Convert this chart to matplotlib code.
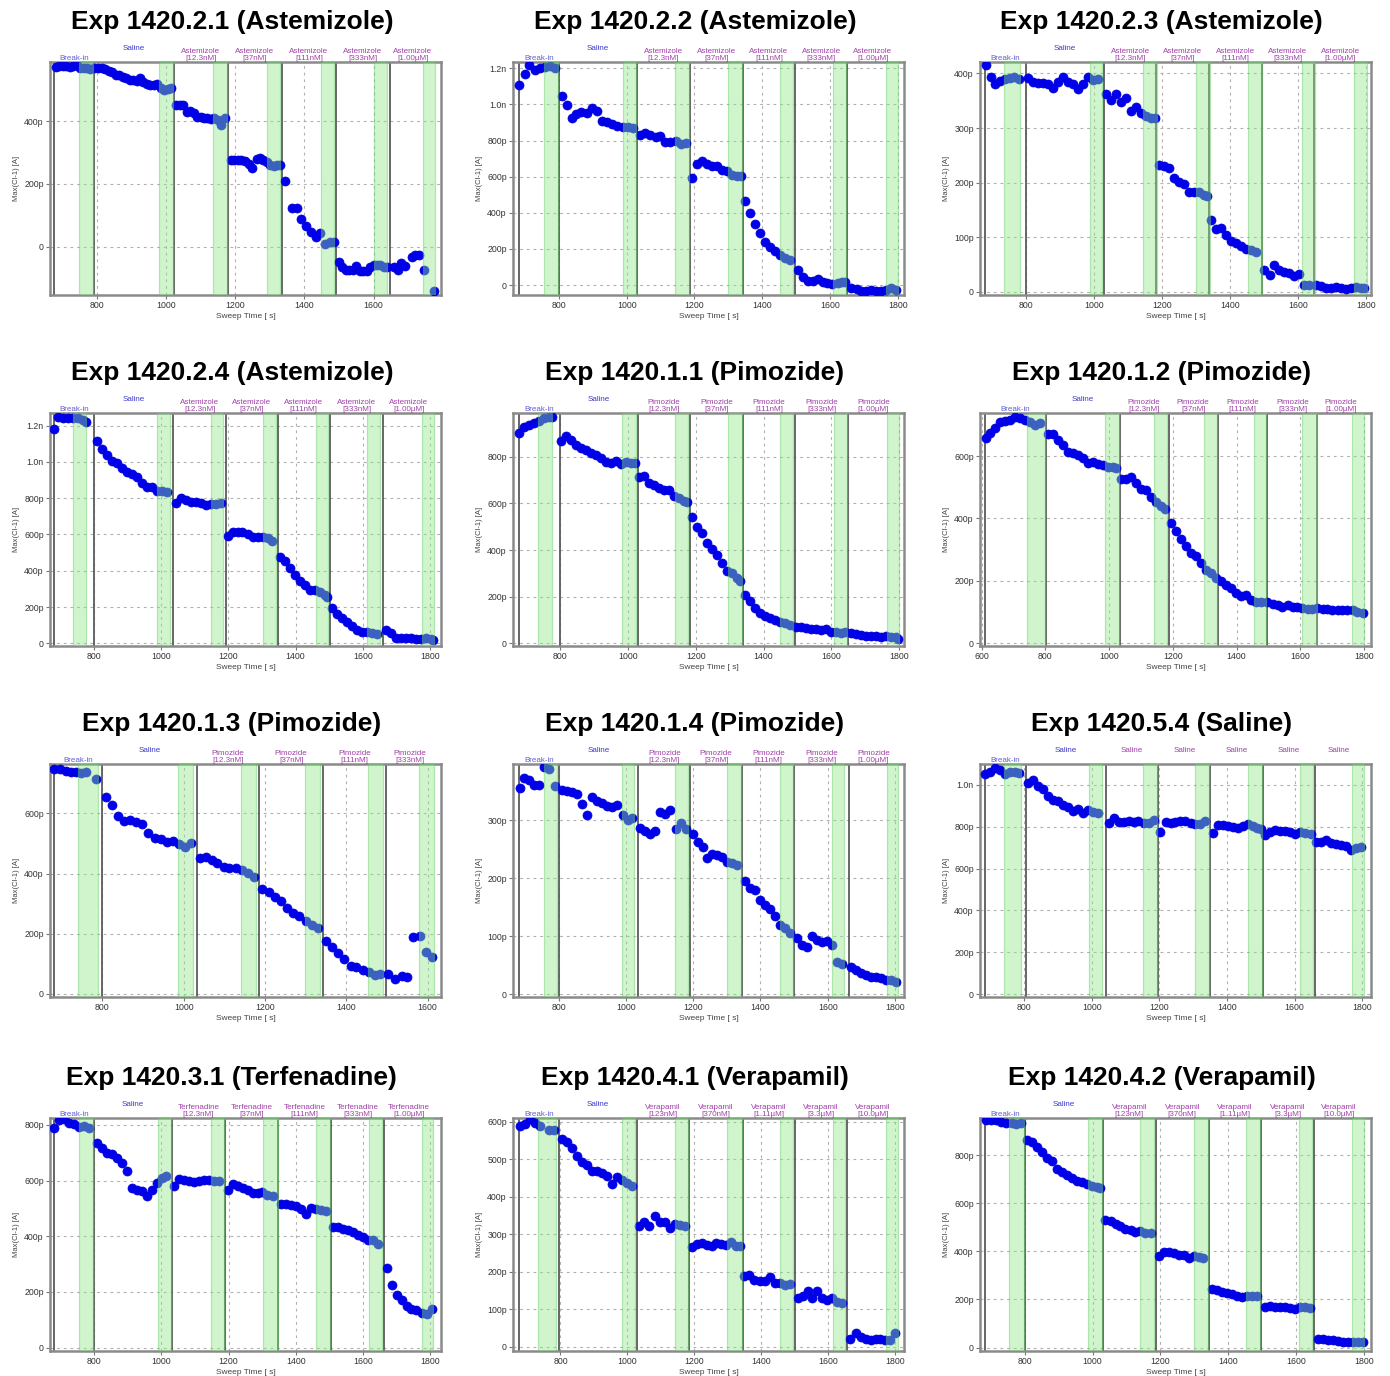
import numpy as np
import matplotlib.pyplot as plt
from matplotlib.ticker import FuncFormatter
import matplotlib.transforms as mtransforms

plt.rcParams['font.family'] = ['Liberation Sans', 'DejaVu Sans']

# sweep times [s] and Max(Cl-1) [pA]
t_2_1 = [682, 692, 702, 712, 722, 732, 742, 752, 762, 772, 782, 792,
         805, 815, 825, 835, 845, 855, 865, 875, 885, 895, 905, 915, 925, 935, 945, 955, 965, 975, 985, 995, 1005, 1015,
         1030, 1040, 1050, 1060, 1070, 1080, 1090, 1100, 1110, 1120, 1130, 1140, 1150, 1160, 1172,
         1188, 1198, 1208, 1218, 1228, 1240, 1250, 1262, 1272, 1282, 1292, 1302, 1312, 1322, 1330,
         1345, 1365, 1380, 1390, 1405, 1420, 1435, 1445, 1460, 1475, 1485,
         1500, 1510, 1520, 1530, 1540, 1550, 1560, 1570, 1580, 1590, 1600, 1610, 1620, 1630, 1640,
         1660, 1670, 1680, 1690, 1710, 1720, 1730, 1745, 1775]
i_2_1 = [575, 577, 578, 576, 575, 578, 580, 571, 570, 570, 569, 570,
         571, 571, 568, 562, 558, 548, 550, 543, 538, 533, 532, 528, 539, 525, 520, 518, 515, 520, 508, 500, 505, 507,
         453, 453, 452, 430, 432, 428, 413, 415, 412, 410, 408, 410, 405, 390, 410,
         277, 278, 278, 276, 272, 265, 252, 281, 282, 278, 270, 260, 258, 262, 260,
         208, 123, 123, 87, 67, 45, 32, 43, 7, 14, 16,
         -48, -64, -75, -75, -75, -62, -77, -77, -77, -64, -59, -59, -59, -64, -64,
         -64, -75, -53, -62, -35, -27, -27, -75, -142]

t_2_2 = [684, 700, 713, 730, 744, 759, 774, 788,
         810, 824, 839, 852, 866, 883, 899, 913, 928, 943, 957, 972, 989, 1003, 1018,
         1040, 1055, 1070, 1086, 1099, 1114, 1128, 1145, 1160, 1174,
         1194, 1209, 1223, 1238, 1253, 1267, 1282, 1297, 1311, 1326, 1336,
         1350, 1365, 1380, 1394, 1409, 1424, 1438, 1453, 1468, 1482,
         1505, 1519, 1534, 1549, 1563, 1578, 1592, 1607, 1622, 1634, 1644,
         1663, 1678, 1692, 1707, 1722, 1736, 1751, 1766, 1780, 1795]
i_2_2 = [1108, 1167, 1218, 1191, 1200, 1205, 1215, 1204,
         1049, 997, 927, 945, 960, 951, 982, 964, 908, 901, 890, 882, 877, 877, 871,
         831, 840, 831, 822, 825, 790, 794, 797, 779, 785,
         594, 668, 687, 670, 661, 661, 637, 631, 609, 606, 604,
         467, 397, 336, 286, 240, 212, 190, 166, 148, 138,
         83, 46, 22, 22, 33, 15, 9, 4, 9, 15, 18,
         -15, -22, -33, -33, -28, -33, -33, -28, -18, -28]

t_2_3 = [684, 697, 710, 725, 739, 754, 766, 781,
         808, 822, 837, 852, 866, 881, 896, 910, 925, 940, 954, 969, 984, 998, 1013,
         1036, 1050, 1065, 1080, 1094, 1109, 1124, 1138, 1153, 1168, 1179,
         1192, 1207, 1221, 1236, 1250, 1265, 1280, 1294, 1309, 1324, 1334,
         1345, 1360, 1374, 1389, 1404, 1418, 1433, 1447, 1462, 1477,
         1500, 1517, 1529, 1544, 1559, 1573, 1588, 1603, 1617, 1632,
         1653, 1668, 1683, 1697, 1712, 1727, 1741, 1756, 1771, 1786, 1795]
i_2_3 = [415, 394, 380, 386, 389, 392, 394, 389,
         392, 385, 382, 382, 380, 374, 385, 393, 385, 380, 371, 380, 394, 388, 389,
         362, 352, 362, 348, 355, 331, 339, 327, 322, 319, 318,
         233, 230, 226, 209, 202, 197, 182, 182, 183, 178, 176,
         131, 115, 116, 104, 93, 89, 84, 78, 76, 73,
         40, 31, 49, 40, 37, 35, 29, 32, 13, 13,
         12, 11, 7, 6, 8, 6, 5, 6, 9, 7, 6]

t_2_4 = [682, 694, 709, 724, 738, 753, 766, 776,
         808, 823, 838, 853, 867, 882, 897, 912, 927, 942, 957, 972, 987, 1001, 1016,
         1044, 1059, 1074, 1089, 1104, 1118, 1133, 1148, 1163, 1178,
         1198, 1213, 1228, 1242, 1257, 1272, 1287, 1302, 1317, 1331,
         1354, 1368, 1383, 1398, 1413, 1428, 1443, 1458, 1473, 1488, 1495,
         1509, 1524, 1539, 1554, 1569, 1584, 1599, 1613, 1628, 1643,
         1669, 1684, 1699, 1714, 1728, 1743, 1758, 1773, 1788, 1803, 1808]
i_2_4 = [1180, 1250, 1244, 1240, 1240, 1244, 1231, 1218,
         1117, 1069, 1038, 1007, 996, 965, 946, 932, 915, 886, 860, 860, 842, 840, 836,
         772, 799, 790, 781, 781, 772, 763, 766, 768, 772,
         594, 616, 616, 612, 603, 588, 588, 588, 579, 566,
         478, 456, 413, 377, 345, 322, 294, 294, 285, 266, 257,
         193, 160, 138, 116, 97, 74, 64, 61, 55, 51,
         74, 59, 28, 28, 31, 28, 22, 22, 28, 22, 18]

t_1_1 = [678, 692, 707, 722, 736, 751, 766, 775,
         803, 818, 832, 847, 862, 876, 891, 906, 921, 935, 950, 965, 979, 994, 1009, 1019,
         1033, 1048, 1063, 1077, 1092, 1107, 1122, 1136, 1151, 1166, 1175,
         1190, 1205, 1219, 1234, 1249, 1264, 1278, 1293, 1308, 1323, 1332,
         1345, 1360, 1375, 1389, 1404, 1419, 1433, 1448, 1463, 1477,
         1497, 1512, 1526, 1541, 1556, 1571, 1585, 1600, 1615, 1629, 1641,
         1659, 1673, 1688, 1703, 1718, 1732, 1747, 1762, 1776, 1791, 1798]
i_1_1 = [903, 926, 936, 943, 953, 964, 971, 971,
         869, 890, 871, 850, 836, 829, 814, 807, 793, 779, 774, 781, 769, 776, 774, 774,
         711, 717, 686, 679, 664, 657, 657, 631, 621, 611, 607,
         543, 500, 471, 431, 403, 379, 346, 310, 300, 279, 269,
         207, 181, 150, 131, 117, 107, 100, 90, 86, 81,
         69, 69, 64, 60, 60, 57, 60, 50, 50, 46, 50,
         43, 39, 36, 33, 33, 31, 29, 31, 29, 26, 21]

t_1_2 = [613, 626, 642, 657, 673, 689, 704, 720, 736, 751, 767, 783,
         809, 824, 840, 856, 871, 887, 903, 918, 934, 950, 965, 981, 997, 1012, 1023,
         1038, 1054, 1070, 1085, 1101, 1117, 1132, 1148, 1164, 1174,
         1195, 1210, 1226, 1242, 1257, 1273, 1289, 1304, 1320, 1336,
         1351, 1367, 1383, 1398, 1414, 1430, 1445, 1461, 1477,
         1497, 1513, 1529, 1544, 1560, 1576, 1591, 1607, 1623, 1638,
         1654, 1670, 1685, 1701, 1717, 1732, 1748, 1764, 1779, 1798]
i_1_2 = [657, 675, 689, 708, 713, 715, 724, 721, 717, 708, 701, 705,
         670, 670, 651, 635, 614, 609, 603, 593, 579, 582, 576, 571, 564, 564, 563,
         525, 528, 532, 512, 493, 491, 468, 454, 440, 430,
         384, 360, 333, 312, 290, 278, 256, 235, 224, 208,
         198, 187, 176, 162, 152, 153, 137, 131, 131,
         133, 126, 123, 117, 121, 115, 115, 112, 110, 109,
         112, 109, 111, 107, 107, 107, 107, 105, 101, 96]

t_1_3 = [682, 696, 710, 723, 735, 748, 760, 784,
         808, 823, 838, 853, 868, 883, 898, 913, 929, 943, 958, 973, 989, 1003, 1018,
         1039, 1054, 1069, 1083, 1098, 1112, 1128, 1143, 1157, 1173,
         1193, 1210, 1225, 1239, 1255, 1270, 1284, 1300, 1315, 1330,
         1350, 1366, 1380, 1395, 1411, 1425, 1440, 1456, 1470, 1484,
         1503, 1521, 1536, 1550, 1565, 1581, 1596, 1611]
i_1_3 = [749, 749, 741, 738, 736, 735, 738, 713,
         653, 628, 591, 575, 578, 572, 565, 534, 517, 514, 504, 509, 498, 489, 500,
         451, 454, 445, 436, 423, 417, 417, 412, 403, 390,
         348, 340, 321, 309, 285, 268, 259, 242, 229, 218,
         177, 155, 135, 116, 94, 91, 80, 72, 63, 65,
         65, 50, 60, 55, 190, 193, 141, 122]

t_1_4 = [685, 697, 712, 727, 742, 757, 771, 788,
         810, 825, 839, 854, 869, 884, 900, 915, 929, 944, 959, 974, 991, 1005, 1018,
         1043, 1058, 1072, 1087, 1102, 1117, 1132, 1148, 1163, 1178,
         1198, 1213, 1228, 1242, 1257, 1272, 1287, 1301, 1316, 1331,
         1354, 1369, 1384, 1398, 1413, 1428, 1443, 1458, 1472, 1487,
         1509, 1524, 1538, 1553, 1568, 1583, 1598, 1612, 1627, 1642,
         1670, 1685, 1699, 1714, 1729, 1744, 1759, 1774, 1789, 1803]
i_1_4 = [356, 372, 369, 361, 361, 392, 389, 359,
         353, 350, 349, 346, 328, 309, 340, 333, 330, 324, 322, 327, 309, 301, 303,
         287, 282, 277, 281, 314, 310, 317, 284, 295, 284,
         276, 263, 253, 234, 241, 240, 236, 228, 226, 222,
         195, 183, 179, 163, 153, 146, 135, 119, 114, 106,
         97, 84, 82, 101, 93, 90, 91, 84, 56, 52,
         47, 41, 36, 33, 29, 29, 28, 25, 25, 21]

t_5_4 = [684, 699, 713, 728, 743, 758, 772, 785,
         812, 826, 841, 856, 871, 886, 900, 915, 930, 945, 959, 974, 989, 1004, 1018,
         1050, 1065, 1079, 1094, 1109, 1124, 1138, 1153, 1168, 1183,
         1203, 1218, 1233, 1247, 1262, 1277, 1292, 1306, 1321, 1336,
         1358, 1373, 1387, 1402, 1417, 1432, 1447, 1461, 1476, 1490, 1500,
         1512, 1527, 1542, 1557, 1571, 1586, 1600, 1615, 1630, 1648,
         1664, 1679, 1694, 1709, 1723, 1738, 1753, 1768, 1782, 1797]
i_5_4 = [1053, 1064, 1083, 1069, 1051, 1061, 1064, 1056,
         1008, 1024, 995, 979, 947, 928, 923, 904, 896, 877, 885, 864, 880, 872, 864,
         817, 840, 825, 825, 828, 825, 828, 817, 817, 833,
         777, 825, 817, 825, 828, 828, 820, 812, 813, 829,
         772, 809, 809, 804, 801, 796, 804, 813, 804, 796, 789,
         761, 777, 785, 781, 780, 777, 766, 777, 772, 764,
         729, 726, 737, 721, 716, 713, 708, 689, 697, 705]

t_3_1 = [681, 696, 711, 726, 740, 755, 770, 785,
         807, 822, 837, 852, 867, 882, 896, 911, 926, 941, 956, 971, 986, 1001, 1015,
         1038, 1053, 1068, 1083, 1098, 1113, 1128, 1143, 1158, 1172,
         1197, 1212, 1227, 1242, 1257, 1272, 1287, 1301, 1316, 1331,
         1356, 1371, 1386, 1401, 1416, 1431, 1445, 1460, 1475, 1490,
         1512, 1527, 1542, 1557, 1572, 1586, 1601, 1616, 1631, 1646,
         1671, 1686, 1701, 1716, 1731, 1745, 1760, 1775, 1790, 1805]
i_3_1 = [788, 818, 820, 806, 802, 792, 796, 790,
         734, 718, 698, 694, 680, 662, 634, 574, 568, 563, 544, 568, 593, 610, 617,
         581, 605, 602, 598, 595, 598, 602, 604, 598, 598,
         565, 589, 581, 574, 565, 557, 557, 559, 550, 544,
         517, 517, 514, 509, 497, 481, 502, 499, 496, 490,
         435, 435, 427, 421, 415, 405, 397, 385, 385, 373,
         286, 226, 189, 172, 150, 138, 135, 126, 120, 138]

t_4_1 = [679, 694, 709, 724, 739, 766, 781,
         805, 820, 835, 850, 864, 879, 894, 909, 924, 939, 953, 968, 983, 998, 1013,
         1036, 1050, 1065, 1083, 1098, 1113, 1128, 1142, 1157, 1172,
         1192, 1207, 1222, 1237, 1252, 1266, 1281, 1296, 1311, 1326, 1336,
         1350, 1365, 1380, 1395, 1410, 1427, 1442, 1456, 1471, 1486,
         1509, 1524, 1539, 1553, 1568, 1583, 1598, 1613, 1628, 1643,
         1667, 1682, 1697, 1712, 1727, 1742, 1756, 1771, 1786, 1801]
i_4_1 = [588, 593, 607, 596, 588, 579, 579,
         553, 545, 531, 508, 493, 486, 469, 469, 463, 455, 435, 453, 444, 438, 429,
         321, 332, 321, 348, 332, 334, 316, 328, 325, 321,
         265, 274, 277, 271, 270, 277, 274, 271, 279, 270, 268,
         189, 192, 179, 176, 176, 187, 169, 171, 164, 167,
         129, 136, 149, 131, 149, 129, 125, 129, 120, 118,
         20, 36, 27, 22, 18, 20, 20, 17, 17, 36]

t_4_2 = [685, 700, 715, 729, 744, 761, 775, 790,
         807, 822, 836, 851, 866, 880, 895, 910, 925, 939, 954, 969, 983, 998, 1013, 1023,
         1038, 1053, 1068, 1082, 1097, 1112, 1126, 1141, 1156, 1171,
         1195, 1210, 1225, 1239, 1254, 1269, 1283, 1298, 1313, 1327,
         1352, 1367, 1381, 1396, 1411, 1425, 1440, 1455, 1469, 1484,
         1509, 1524, 1538, 1553, 1568, 1582, 1597, 1612, 1626, 1641,
         1666, 1680, 1695, 1710, 1725, 1739, 1754, 1769, 1783, 1798]
i_4_2 = [946, 946, 946, 939, 935, 932, 928, 932,
         863, 856, 835, 814, 786, 775, 744, 730, 717, 703, 691, 689, 678, 672, 668, 665,
         529, 525, 515, 504, 494, 487, 480, 483, 477, 476,
         380, 399, 397, 394, 385, 383, 371, 380, 376, 373,
         243, 239, 232, 227, 223, 216, 211, 216, 216, 216,
         167, 174, 167, 167, 167, 163, 160, 167, 167, 164,
         35, 35, 32, 31, 28, 24, 24, 24, 24, 25]

# solution changes (segment starts) and analysis windows (green)
edges = [
    [676, 793, 1023, 1178, 1336, 1491, 1648],
    [684, 800, 1031, 1186, 1343, 1497, 1651],
    [681, 800, 1030, 1184, 1339, 1494, 1648],
    [682, 800, 1036, 1193, 1347, 1502, 1661],
    [678, 798, 1028, 1183, 1339, 1494, 1649],
    [610, 803, 1033, 1187, 1341, 1497, 1654],
    [682, 800, 1032, 1186, 1343, 1498],
    [683, 801, 1037, 1191, 1346, 1501, 1662],
    [684, 804, 1041, 1197, 1351, 1505, 1659],
    [680, 800, 1032, 1189, 1348, 1505, 1664],
    [677, 796, 1029, 1184, 1345, 1501, 1657],
    [682, 802, 1030, 1187, 1342, 1498, 1653],
]
windows = [
    [(749, 790), (981, 1020), (1136, 1176), (1291, 1331), (1447, 1486), (1602, 1640), (1743, 1779)],
    [(756, 798), (989, 1028), (1143, 1184), (1298, 1341), (1453, 1492), (1609, 1648), (1766, 1800)],
    [(737, 785), (989, 1025), (1144, 1185), (1300, 1341), (1454, 1495), (1611, 1650), (1765, 1802)],
    [(738, 776), (988, 1026), (1147, 1185), (1304, 1342), (1460, 1497), (1613, 1651), (1775, 1812)],
    [(734, 775), (982, 1022), (1139, 1178), (1294, 1337), (1450, 1487), (1607, 1646), (1764, 1800)],
    [(744, 798), (988, 1031), (1141, 1181), (1297, 1339), (1454, 1492), (1607, 1651), (1763, 1800)],
    [(741, 789), (985, 1024), (1141, 1178), (1298, 1335), (1454, 1491), (1580, 1616)],
    [(756, 795), (989, 1025), (1147, 1186), (1302, 1341), (1459, 1497), (1612, 1650), (1775, 1810)],
    [(741, 789), (991, 1030), (1151, 1192), (1305, 1346), (1463, 1502), (1615, 1653), (1770, 1805)],
    [(754, 797), (989, 1030), (1147, 1187), (1303, 1346), (1460, 1502), (1618, 1658), (1775, 1810)],
    [(734, 788), (984, 1024), (1143, 1182), (1299, 1343), (1456, 1494), (1615, 1652), (1773, 1810)],
    [(754, 798), (986, 1028), (1141, 1182), (1298, 1341), (1452, 1494), (1609, 1648), (1764, 1800)],
]

titles = ['Exp 1420.2.1 (Astemizole)', 'Exp 1420.2.2 (Astemizole)', 'Exp 1420.2.3 (Astemizole)',
          'Exp 1420.2.4 (Astemizole)', 'Exp 1420.1.1 (Pimozide)', 'Exp 1420.1.2 (Pimozide)',
          'Exp 1420.1.3 (Pimozide)', 'Exp 1420.1.4 (Pimozide)', 'Exp 1420.5.4 (Saline)',
          'Exp 1420.3.1 (Terfenadine)', 'Exp 1420.4.1 (Verapamil)', 'Exp 1420.4.2 (Verapamil)']
drugs = ['Astemizole', 'Astemizole', 'Astemizole', 'Astemizole', 'Pimozide', 'Pimozide',
         'Pimozide', 'Pimozide', 'Saline', 'Terfenadine', 'Verapamil', 'Verapamil']
conc_std = ['[12.3nM]', '[37nM]', '[111nM]', '[333nM]', '[1.00µM]']
conc_vera = ['[123nM]', '[370nM]', '[1.11µM]', '[3.3µM]', '[10.0µM]']

xlims = [(665, 1795), (665, 1818), (666, 1815), (669, 1833), (660, 1815), (595, 1822),
         (671, 1633), (664, 1827), (669, 1826), (668, 1833), (658, 1827), (668, 1821)]
ylims = [(-155, 590), (-55, 1235), (-6, 421), (-15, 1270), (-11, 987), (-9, 738),
         (-10, 764), (-5, 397), (-14, 1100), (-12, 825), (-11, 610), (-14, 954)]
ysteps = [200, 200, 100, 200, 200, 200, 200, 100, 200, 200, 100, 200]

times = [t_2_1, t_2_2, t_2_3, t_2_4, t_1_1, t_1_2, t_1_3, t_1_4, t_5_4, t_3_1, t_4_1, t_4_2]
currents = [i_2_1, i_2_2, i_2_3, i_2_4, i_1_1, i_1_2, i_1_3, i_1_4, i_5_4, i_3_1, i_4_1, i_4_2]


def si_pa(v, pos):
    if abs(v) < 1e-6:
        return '0'
    if abs(v) >= 1000:
        return '%.1fn' % (v / 1000)
    return '%dp' % round(v)


W, H = 1390, 1376
fig = plt.figure(figsize=(W / 100, H / 100), dpi=100)
lefts = [50, 513, 980]
tops = [62, 413, 764, 1118]
aw, ah = 391, 233

for k in range(12):
    r, c = divmod(k, 3)
    ax = fig.add_axes([lefts[c] / W, 1 - (tops[r] + ah) / H, aw / W, ah / H])
    ax.set_xticks(np.arange(600, 1900, 200))
    ax.set_yticks(np.arange(0, 1400, ysteps[k]))
    ax.set_xlim(xlims[k])
    ax.set_ylim(ylims[k])
    ax.yaxis.set_major_formatter(FuncFormatter(si_pa))
    ax.grid(True, color='#b0b0b0', ls=(0, (2.5, 3.5)), lw=0.8)
    ax.set_axisbelow(True)
    for s in ax.spines.values():
        s.set_color('#8a8a8a')
        s.set_linewidth(1.8)
    ax.tick_params(labelsize=6.3, length=3, width=0.8, color='#777777', labelcolor='#333333', pad=1.5)

    for e in edges[k]:
        ax.axvline(e, color='#5a5a5a', lw=1.3, zorder=2)
    ax.plot(times[k], currents[k], 'o', color='#0000ee', ms=6.5, mec='#0000cc', mew=0.5, zorder=3)
    for a, b in windows[k]:
        ax.axvspan(a, b, facecolor='#8fe88a', edgecolor='#5ccc5c', lw=0.9, alpha=0.42, zorder=4)

    # segment labels above the plot
    trans = mtransforms.blended_transform_factory(ax.transData, ax.transAxes)
    starts = edges[k]
    ends = starts[1:] + [windows[k][-1][1]]
    conc = conc_vera if drugs[k] == 'Verapamil' else conc_std
    for j, (a, b) in enumerate(zip(starts, ends)):
        xc = (a + b) / 2
        if j == 0:
            ax.annotate('Break-in', (xc, 1), xycoords=trans, xytext=(0, 0.3), textcoords='offset points',
                        ha='center', va='bottom', fontsize=5.8, color='#6060d0')
        elif j == 1:
            ax.annotate('Saline', (xc, 1), xycoords=trans, xytext=(0, 7), textcoords='offset points',
                        ha='center', va='bottom', fontsize=5.8, color='#3a3ac8')
        elif drugs[k] == 'Saline':
            ax.annotate('Saline', (xc, 1), xycoords=trans, xytext=(0, 7), textcoords='offset points',
                        ha='center', va='bottom', fontsize=5.8, color='#a040a8')
        else:
            ax.annotate(drugs[k] + '\n' + conc[j - 2], (xc, 1), xycoords=trans, xytext=(0, 0.3),
                        textcoords='offset points', ha='center', va='bottom', fontsize=5.8,
                        color='#a040a8', linespacing=0.95)

    ax.set_title(titles[k], fontsize=19, fontweight='bold', pad=24, x=0.465)
    ax.set_ylabel('Max(Cl-1) [A]', fontsize=5.5, color='#444444', labelpad=3)
    ax.set_xlabel('Sweep Time [ s]', fontsize=6, color='#444444', labelpad=2)

fig.savefig('out.png', dpi=100)
